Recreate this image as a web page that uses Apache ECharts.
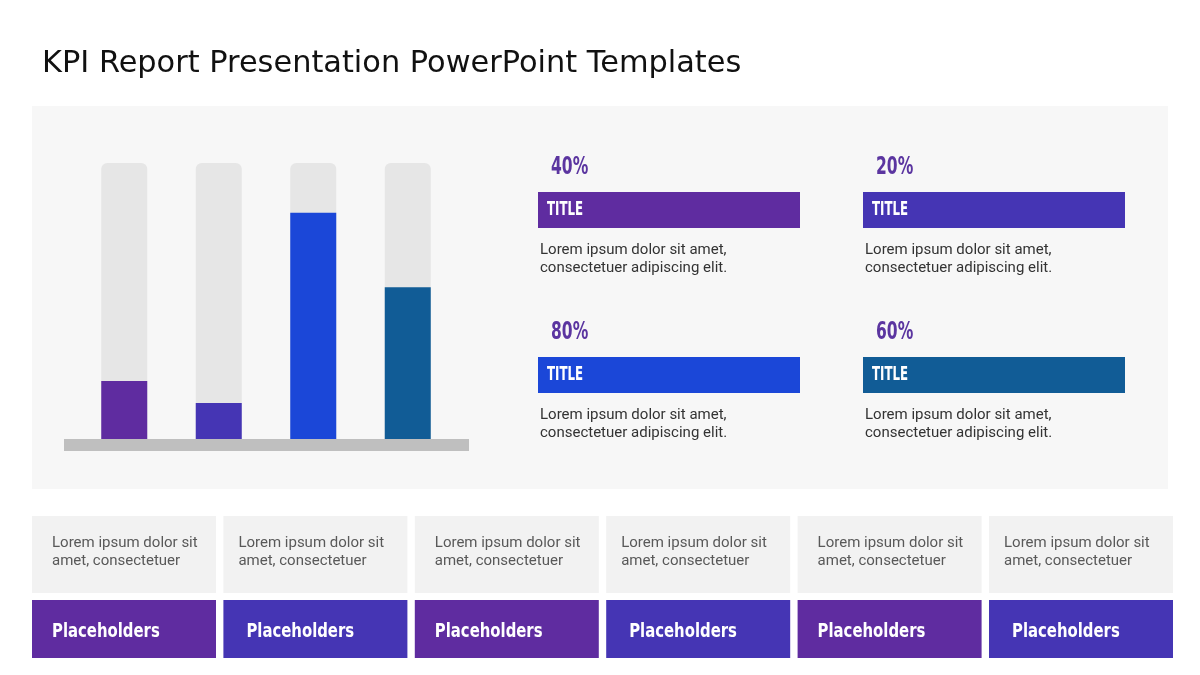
<!DOCTYPE html>
<html>
<head>
<meta charset="utf-8">
<title>KPI Report</title>
<script src="https://cdn.jsdelivr.net/npm/echarts@6/dist/echarts.min.js"></script>
<style>
  html, body { margin: 0; padding: 0; background: #fff; }
  #main { width: 1200px; height: 675px; }
</style>
</head>
<body>
<div id="main"></div>
<script>
// data
var categories = ['A', 'B', 'C', 'D'];
var barValues = [21, 13, 82, 55];          // filled share of each column (%)
var kpiLabels = ['40%', '20%', '80%', '60%'];
var kpiTitles = ['TITLE', 'TITLE', 'TITLE', 'TITLE'];
var kpiText = ['Lorem ipsum dolor sit amet,', 'consectetuer adipiscing elit.'];
var cardText = ['Lorem ipsum dolor sit', 'amet, consectetuer'];
var cardLabels = ['Placeholders', 'Placeholders', 'Placeholders', 'Placeholders', 'Placeholders', 'Placeholders'];

var barColors = ['#5f2ca0', '#4535b4', '#1b47d8', '#115c96'];
var cardColors = ['#5f2ca0', '#4535b4'];

var condFont = '"DejaVu Sans Condensed", sans-serif';

var myChart = echarts.init(document.getElementById('main'));

// squeezed text helper (the deck uses a narrow display face)
function narrowText(str, x, y, size, fill, sx) {
    return {type: 'text', x: x, y: y, scaleX: sx,
        style: {text: str, x: 0, y: 0, fill: fill, font: 'bold ' + size + 'px ' + condFont, verticalAlign: 'middle'}};
}

var graphics = [
    {type: 'rect', shape: {x: 32, y: 106, width: 1136, height: 383}, style: {fill: '#f7f7f7'}, z: -10},
    {type: 'rect', shape: {x: 64, y: 439, width: 405, height: 12}, style: {fill: '#bfbfbf'}, z: 1}
];

var colX = [538, 863], rowY = [192, 357];
for (var i = 0; i < kpiLabels.length; i++) {
    var bx = colX[i % 2], by = rowY[Math.floor(i / 2)];
    graphics.push(narrowText(kpiLabels[i], bx + 13, by - 24, 24, '#5b35a0', 0.72));
    graphics.push({type: 'rect', shape: {x: bx, y: by, width: 262, height: 36}, style: {fill: barColors[i]}});
    graphics.push(narrowText(kpiTitles[i], bx + 9, by + 18, 19, '#fff', 0.69));
    for (var l = 0; l < kpiText.length; l++) {
        graphics.push({type: 'text', style: {text: kpiText[l], x: bx + 2, y: by + 58 + l * 18, fill: '#333',
            font: '15px Roboto, sans-serif', verticalAlign: 'middle'}});
    }
}

for (var c = 0; c < cardLabels.length; c++) {
    var cx = 32 + c * 191.4;
    graphics.push({type: 'rect', shape: {x: cx, y: 516, width: 184, height: 77}, style: {fill: '#f2f2f2'}});
    graphics.push({type: 'rect', shape: {x: cx, y: 600, width: 184, height: 58}, style: {fill: cardColors[c % 2]}});
    for (var k = 0; k < cardText.length; k++) {
        graphics.push({type: 'text', style: {text: cardText[k], x: cx + (c % 2 ? 15 : 20), y: 543 + k * 18, fill: '#595959',
            font: '15px Roboto, sans-serif', verticalAlign: 'middle'}});
    }
    graphics.push(narrowText(cardLabels[c], cx + (c % 2 ? 23 : 20), 632, 19, '#fff', 0.87));
}

var option = {
    backgroundColor: '#fff',
    title: {
        text: 'KPI Report Presentation PowerPoint Templates',
        left: 37, top: 44,
        textStyle: {fontFamily: '"DejaVu Sans", sans-serif', fontWeight: 'normal', fontSize: 30.4, color: '#111'}
    },
    grid: {left: 77, top: 163, width: 378, height: 276},
    xAxis: {type: 'category', data: categories, show: false},
    yAxis: {type: 'value', min: 0, max: 100, show: false},
    series: [{
        type: 'bar',
        data: barValues,
        barWidth: 46,
        showBackground: true,
        backgroundStyle: {color: '#e6e6e6', borderRadius: [6, 6, 0, 0]},
        itemStyle: {
            color: function (p) { return barColors[p.dataIndex]; }
        },
        silent: true
    }],
    graphic: graphics
};

myChart.setOption(option);
</script>
</body>
</html>
